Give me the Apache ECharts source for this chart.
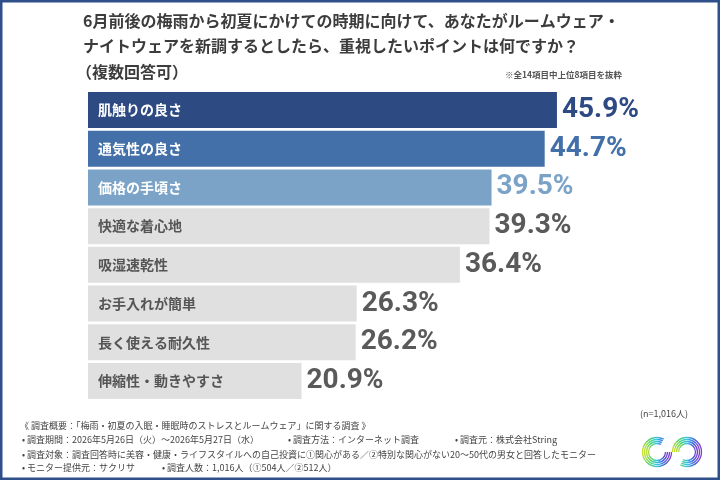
<!DOCTYPE html>
<html lang="ja">
<head>
<meta charset="UTF-8">
<title>ルームウェア 重視ポイント</title>
<script src="https://cdn.jsdelivr.net/npm/echarts@6/dist/echarts.min.js"></script>
<style>
  html, body { margin: 0; padding: 0; background: #fff; }
  #main { width: 720px; height: 480px; }
</style>
</head>
<body>
<div id="main"></div>
<script>
var categories = ['肌触りの良さ', '通気性の良さ', '価格の手頃さ', '快適な着心地', '吸湿速乾性', 'お手入れが簡単', '長く使える耐久性', '伸縮性・動きやすさ'];
var values = [45.9, 44.7, 39.5, 39.3, 36.4, 26.3, 26.2, 20.9];
var barColors = ['#2d4a82', '#4370a8', '#7ba3c7', '#e0e0e0', '#e0e0e0', '#e0e0e0', '#e0e0e0', '#e0e0e0'];
var valueColors = ['#2d4a82', '#4370a8', '#7ba3c7', '#5a5a5a', '#5a5a5a', '#5a5a5a', '#5a5a5a', '#5a5a5a'];
var nameColors = ['#fff', '#fff', '#fff', '#555', '#555', '#555', '#555', '#555'];

var jp = '"Noto Sans CJK JP", "Noto Sans", sans-serif';
var num = 'Roboto, sans-serif';

var chart = echarts.init(document.getElementById('main'));

// 虹色のロゴ（ざっくり）
var rainbow = new echarts.graphic.LinearGradient(0, 0, 1, 0, [
  { offset: 0, color: '#f5e21b' },
  { offset: 0.25, color: '#4fd36b' },
  { offset: 0.5, color: '#38c5e8' },
  { offset: 0.75, color: '#3d5bd8' },
  { offset: 1, color: '#b02bc9' }
]);
var logo = [];
[8.5, 10.5, 12.5, 14.5].forEach(function (r) {
  logo.push({ type: 'arc', shape: { cx: 657, cy: 452, r: r, startAngle: 0, endAngle: Math.PI * 1.65 },
    style: { stroke: rainbow, lineWidth: 1.3, fill: null }, silent: true });
  logo.push({ type: 'arc', shape: { cx: 687, cy: 452, r: r, startAngle: Math.PI, endAngle: Math.PI * 2.65 },
    style: { stroke: rainbow, lineWidth: 1.3, fill: null }, silent: true });
});

var footStyle = { fill: '#444', font: '9px ' + jp };

chart.setOption({
  backgroundColor: '#fff',
  animation: false,
  grid: { left: 88, top: 90.7, width: 613, height: 309.6 },
  xAxis: { type: 'value', min: 0, max: 60, show: false },
  yAxis: {
    type: 'category', data: categories, inverse: true,
    axisLine: { show: false }, axisTick: { show: false }, axisLabel: { show: false }
  },
  series: [{
    type: 'bar',
    data: values.map(function (v, i) {
      return {
        value: v,
        itemStyle: { color: barColors[i] },
        label: { color: nameColors[i] }
      };
    }),
    barWidth: 36,
    label: {
      show: true, position: 'insideLeft', distance: 10,
      formatter: function (p) { return p.name; },
      fontFamily: jp, fontWeight: 'bold', fontSize: 14
    }
  }, {
    type: 'bar',
    data: values.map(function (v, i) {
      return { value: v, label: { color: valueColors[i] } };
    }),
    barWidth: 36, barGap: '-100%',
    itemStyle: { color: 'rgba(0,0,0,0)' },
    label: {
      show: true, position: 'right', distance: 5,
      formatter: function (p) { return p.value.toFixed(1) + '%'; },
      fontFamily: num, fontWeight: 'bold', fontSize: 28
    }
  }],
  graphic: [
    { type: 'rect', shape: { x: 0, y: 0, width: 720, height: 480 },
      style: { fill: null, stroke: '#2f4f8a', lineWidth: 5 }, silent: true },
    { type: 'text', left: 83, top: 13, style: { text: '6月前後の梅雨から初夏にかけての時期に向けて、あなたがルームウェア・', fill: '#3c3c3c', font: 'bold 16px ' + jp } },
    { type: 'text', left: 83, top: 38, style: { text: 'ナイトウェアを新調するとしたら、重視したいポイントは何ですか？', fill: '#3c3c3c', font: 'bold 16px ' + jp } },
    { type: 'text', left: 76, top: 64, style: { text: '（複数回答可）', fill: '#3c3c3c', font: 'bold 16px ' + jp } },
    { type: 'text', left: 505, top: 71, style: { text: '※全14項目中上位8項目を抜粋', fill: '#555', font: 'bold 8.5px ' + jp } },
    { type: 'text', left: 640, top: 409, style: { text: '(n=1,016人)', fill: '#444', font: '9px ' + jp } },
    { type: 'text', left: 20, top: 421, style: Object.assign({ text: '《 調査概要：「梅雨・初夏の入眠・睡眠時のストレスとルームウェア」に関する調査 》' }, footStyle) },
    { type: 'text', left: 22, top: 435, style: Object.assign({ text: '• 調査期間：2026年5月26日（火）～2026年5月27日（水）' }, footStyle) },
    { type: 'text', left: 288, top: 435, style: Object.assign({ text: '• 調査方法：インターネット調査' }, footStyle) },
    { type: 'text', left: 455, top: 435, style: Object.assign({ text: '• 調査元：株式会社String' }, footStyle) },
    { type: 'text', left: 22, top: 450, style: Object.assign({ text: '• 調査対象：調査回答時に美容・健康・ライフスタイルへの自己投資に①関心がある／②特別な関心がない20～50代の男女と回答したモニター' }, footStyle) },
    { type: 'text', left: 22, top: 463, style: Object.assign({ text: '• モニター提供元：サクリサ' }, footStyle) },
    { type: 'text', left: 162, top: 463, style: Object.assign({ text: '• 調査人数：1,016人（①504人／②512人）' }, footStyle) }
  ].concat(logo)
});
</script>
</body>
</html>
